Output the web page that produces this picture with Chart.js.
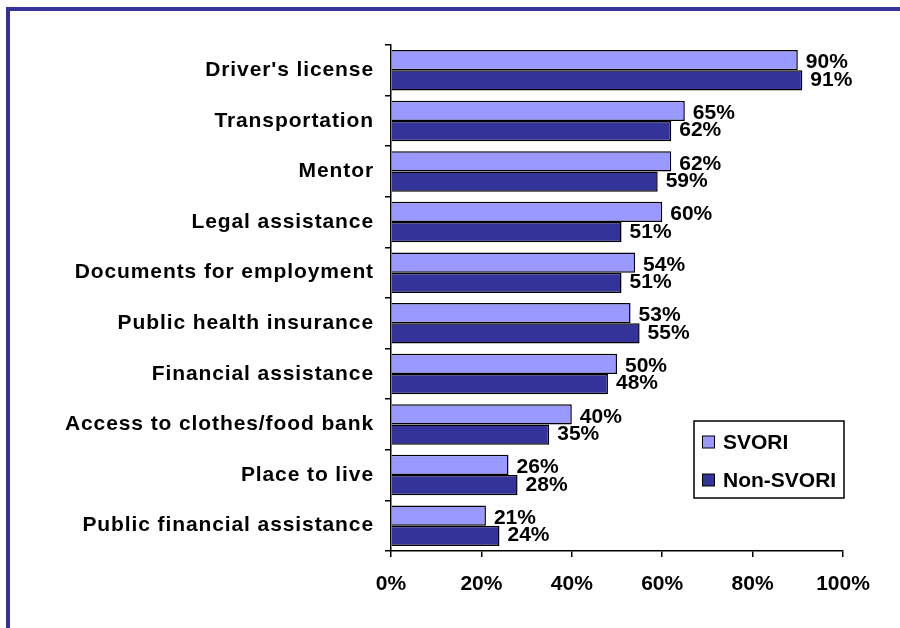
<!DOCTYPE html>
<html>
<head>
<meta charset="utf-8">
<script src="https://cdn.jsdelivr.net/npm/chart.js@4/dist/chart.umd.min.js"></script>
<style>
html,body{margin:0;padding:0;background:#fff;}
#wrap{width:900px;height:628px;position:relative;}
</style>
</head>
<body>
<div id="wrap"><canvas id="c" width="900" height="628"></canvas></div>
<script>
const categories = ["Driver's license","Transportation","Mentor","Legal assistance","Documents for employment","Public health insurance","Financial assistance","Access to clothes/food bank","Place to live","Public financial assistance"];
const svori = [90,65,62,60,54,53,50,40,26,21];
const nonSvori = [91,62,59,51,51,55,48,35,28,24];
const xTicks = [0,20,40,60,80,100];
const seriesNames = ["SVORI","Non-SVORI"];
const seriesColors = ["#9999FF","#333399"];

const FONT = "'Liberation Sans', Arial, sans-serif";

const framePlugin = {
  id:'frame',
  beforeDraw(chart){
    const ctx = chart.ctx;
    ctx.save();
    ctx.fillStyle='#fff';
    ctx.fillRect(0,0,chart.width,chart.height);
    ctx.strokeStyle='#333399';
    ctx.lineWidth=4;
    ctx.strokeRect(8,9,1200,1200);
    ctx.restore();
  }
};

const labelPlugin = {
  id:'vlabels',
  afterDatasetsDraw(chart){
    const ctx = chart.ctx;
    ctx.save();
    ctx.font = "bold 21px " + FONT;
    ctx.fillStyle = '#000';
    ctx.textBaseline = 'middle';
    ctx.textAlign = 'left';
    chart.data.datasets.forEach((ds,di)=>{
      const meta = chart.getDatasetMeta(di);
      meta.data.forEach((bar,i)=>{
        const dy = di===0 ? 2.5 : -0.5;
        ctx.fillText(ds.data[i] + '%', bar.x + 8, bar.y + dy);
      });
    });
    // legend
    const lx=694, ly=421, lw=150, lh=77;
    ctx.fillStyle='#fff';
    ctx.fillRect(lx,ly,lw,lh);
    ctx.strokeStyle='#000';
    ctx.lineWidth=1.5;
    ctx.strokeRect(lx,ly,lw,lh);
    chart.data.datasets.forEach((ds,di)=>{
      const cy = di===0 ? 442 : 480;
      ctx.fillStyle = ds.backgroundColor;
      ctx.fillRect(702.5, cy-6, 12, 12);
      ctx.lineWidth=1;
      ctx.strokeRect(702.5, cy-6, 12, 12);
      ctx.fillStyle='#000';
      ctx.font = "bold 21px " + FONT;
      ctx.fillText(ds.label, 723, cy+1);
    });
    ctx.restore();
  }
};

new Chart(document.getElementById('c'), {
  type:'bar',
  data:{
    labels: categories,
    datasets:[
      {label:seriesNames[0], data:svori, backgroundColor:seriesColors[0], borderColor:'#000', borderWidth:1.5, categoryPercentage:0.8, barPercentage:1.0},
      {label:seriesNames[1], data:nonSvori, backgroundColor:seriesColors[1], borderColor:'#000', borderWidth:1.5, categoryPercentage:0.8, barPercentage:1.0}
    ]
  },
  options:{
    indexAxis:'y',
    responsive:false,
    animation:false,
    devicePixelRatio:1,
    layout:{padding:{left:0,top:45,right:57,bottom:0}},
    plugins:{legend:{display:false}, tooltip:{enabled:false}},
    scales:{
      x:{
        min:0,max:100,
        afterBuildTicks(scale){ scale.ticks = xTicks.map(v=>({value:v})); },
        afterFit(scale){ scale.height = 77; },
        border:{display:true,color:'#000',width:1.5},
        grid:{drawOnChartArea:false, drawTicks:true, tickLength:6, color:'#000', lineWidth:1.5},
        ticks:{callback:v=>v+'%', color:'#000', font:{family:FONT, size:21, weight:'bold'}, padding:15, maxRotation:0}
      },
      y:{
        afterFit(scale){
          scale.width = 391;
          if(!scale._lsPatched){
            const orig = scale.drawLabels;
            scale.drawLabels = function(area){
              const ctx = this.ctx;
              ctx.save();
              ctx.letterSpacing = '0.9px';
              orig.call(this, area);
              ctx.restore();
            };
            scale._lsPatched = true;
          }
        },
        border:{display:true,color:'#000',width:1.5},
        grid:{drawOnChartArea:false, drawTicks:true, tickLength:6, color:'#000', lineWidth:1.5, offset:true},
        ticks:{color:'#000', font:{family:FONT, size:21, weight:'bold'}, padding:11, autoSkip:false}
      }
    }
  },
  plugins:[framePlugin,labelPlugin]
});
</script>
</body>
</html>
